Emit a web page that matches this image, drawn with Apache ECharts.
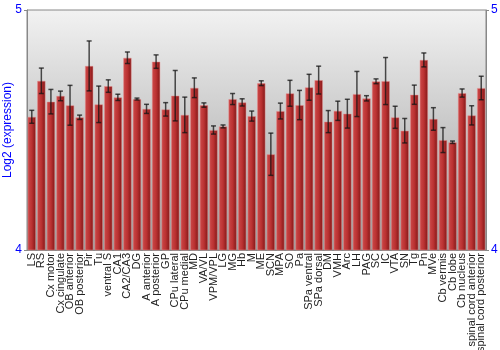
<!DOCTYPE html>
<html><head><meta charset="utf-8">
<script src="https://cdn.jsdelivr.net/npm/echarts@6/dist/echarts.min.js"></script>
<style>html,body{margin:0;padding:0;background:#fff}#c{width:500px;height:350px}</style>
</head><body><div id="c"></div>
<script>
const categories = ["LS","RS","Cx motor","Cx cingulate","OB anterior","OB posterior","Pir","Tu","ventral S","CA1","CA2/CA3","DG","A anterior","A posterior","GP","CPu lateral","CPu medial","MD","VA/VL","VPM/VPL","LG","MG","Hb","M","ME","SCN","MPA","SO","Pa","SPa ventral","SPa dorsal","DM","VMH","Arc","LH","PAG","SC","IC","VTA","SN","Tg","Pn","MVe","Cb vermis","Cb lobe","Cb nucleus","spinal cord anterior","spinal cord posterior"];
const values = [4.555,4.705,4.618,4.642,4.603,4.553,4.767,4.607,4.683,4.636,4.801,4.629,4.588,4.785,4.586,4.643,4.563,4.676,4.604,4.500,4.515,4.629,4.615,4.558,4.695,4.399,4.579,4.653,4.604,4.678,4.708,4.535,4.580,4.568,4.650,4.632,4.703,4.704,4.553,4.497,4.647,4.792,4.546,4.458,4.449,4.654,4.561,4.675];
const errors = [0.027,0.053,0.051,0.020,0.083,0.009,0.104,0.076,0.026,0.013,0.024,0.004,0.019,0.028,0.028,0.105,0.074,0.041,0.009,0.017,0.006,0.023,0.015,0.021,0.010,0.088,0.033,0.054,0.061,0.054,0.058,0.046,0.040,0.060,0.094,0.011,0.010,0.098,0.046,0.051,0.040,0.029,0.047,0.052,0.005,0.017,0.040,0.049];
const yTicks = [4, 5];

const chart = echarts.init(document.getElementById('c'), null, {renderer:'canvas'});
const errData = values.map((v,i)=>[i, v-errors[i], v+errors[i]]);
chart.setOption({
  animation:false,
  grid:{left:27,right:14,top:10,bottom:100,containLabel:false,outerBoundsMode:'none',show:true,borderColor:'#888',borderWidth:1,
    backgroundColor:new echarts.graphic.LinearGradient(0,0,0,1,[{offset:0,color:'#f2f2f2'},{offset:1,color:'#9c9c9c'}])},
  xAxis:{type:'category',data:categories,
    axisLine:{show:true,lineStyle:{color:'#888'}},axisTick:{show:false},
    axisLabel:{interval:0,rotate:90,fontSize:11,color:'#222',fontFamily:'Liberation Sans, Arial',margin:3}},
  yAxis:[{type:'value',min:yTicks[0],max:yTicks[1],interval:1,position:'left',
    name:'Log2 (expression)',nameLocation:'middle',nameGap:13,nameMoveOverlap:false,
    nameTextStyle:{color:'#0000ff',fontSize:12,fontFamily:'Liberation Sans, Arial'},
    axisLine:{show:true,lineStyle:{color:'#888'}},axisTick:{show:true,length:3,lineStyle:{color:'#888'}},
    axisLabel:{color:'#0000ff',fontSize:12,margin:5,fontFamily:'Liberation Sans, Arial'},splitLine:{show:false}},
   {type:'value',min:yTicks[0],max:yTicks[1],interval:1,position:'right',
    axisLine:{show:true,lineStyle:{color:'#888'}},axisTick:{show:true,length:3,lineStyle:{color:'#888'}},
    axisLabel:{color:'#0000ff',fontSize:12,margin:5,fontFamily:'Liberation Sans, Arial'},splitLine:{show:false}}],
  series:[
    {type:'bar',data:values,barCategoryGap:'12%',
     itemStyle:{color:new echarts.graphic.LinearGradient(0,0,1,0,[{offset:0,color:'#cc4a4a'},{offset:0.5,color:'#bb3232'},{offset:1,color:'#801616'}]),
       borderColor:'rgba(230,140,140,0.6)',borderWidth:0.8}},
    {type:'custom',data:errData,z:5,
     renderItem:function(params,api){
       const x=api.coord([api.value(0),api.value(1)])[0];
       const lo=api.coord([api.value(0),api.value(1)])[1];
       const hi=api.coord([api.value(0),api.value(2)])[1];
       const w=2.5;
       const st={stroke:'rgba(20,20,20,0.75)',lineWidth:1.5};
       return {type:'group',children:[
         {type:'line',shape:{x1:x,y1:lo,x2:x,y2:hi},style:st},
         {type:'line',shape:{x1:x-w,y1:lo,x2:x+w,y2:lo},style:st},
         {type:'line',shape:{x1:x-w,y1:hi,x2:x+w,y2:hi},style:st}]};
     }}
  ]
});
</script></body></html>
